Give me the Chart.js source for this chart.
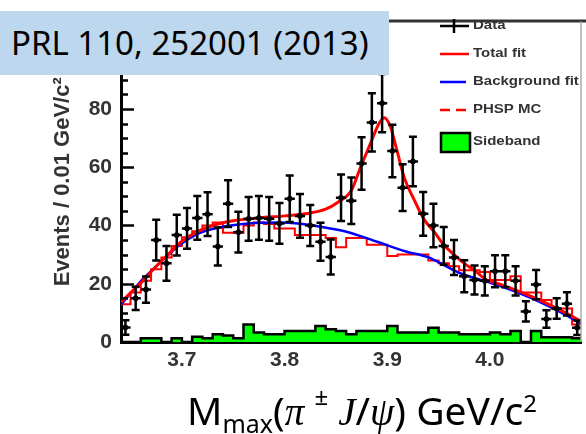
<!DOCTYPE html>
<html lang="en">
<head>
    <meta charset="UTF-8">
    <title>Mmax(pi J/psi)</title>
    <script src="https://cdn.jsdelivr.net/npm/chart.js"></script>
    <style>
        * {
            margin: 0;
            padding: 0;
            box-sizing: border-box;
        }
        body {
            width: 586px;
            height: 434px;
            background: #ffffff;
            position: relative;
            overflow: hidden;
        }
        #massChart {
            position: absolute;
            left: 0;
            top: 0;
        }
        .ref-box {
            position: absolute;
            left: 0;
            top: 11px;
            width: 389px;
            height: 64px;
            background: #bdd7ee;
            color: #000;
            font-family: "Noto Sans", sans-serif;
            font-size: 33px;
            line-height: 64px;
            padding-left: 11px;
            white-space: nowrap;
        }
        .x-title {
            position: absolute;
            left: 187px;
            top: 387px;
            color: #000;
            font-family: "Noto Sans", sans-serif;
            font-size: 39px;
            line-height: 46px;
            white-space: nowrap;
        }
        .x-title .sub {
            font-size: 25px;
            position: relative;
            top: 8px;
        }
        .x-title .pm {
            font-size: 24px;
            position: relative;
            top: -20px;
        }
        .x-title .sq {
            font-size: 24px;
            position: relative;
            top: -13px;
        }
        .x-title i {
            font-family: "Liberation Serif", serif;
        }
    </style>
</head>
<body>
    <canvas id="massChart" width="586" height="434"></canvas>
    <div class="ref-box">PRL 110, 252001 (2013)</div>
    <div class="x-title">M<span class="sub">max</span>(<i>π</i> <span class="pm">±</span> <i>J</i>/<i>ψ</i>) GeV/c<span class="sq">2</span></div>

    <script>
        // bins of 0.01 GeV/c^2
        const binWidth = 0.01;
        const binCenters = [3.645, 3.655, 3.665, 3.675, 3.685, 3.695, 3.705, 3.715, 3.725, 3.735,
                            3.745, 3.755, 3.765, 3.775, 3.785, 3.795, 3.805, 3.815, 3.825, 3.835,
                            3.845, 3.855, 3.865, 3.875, 3.885, 3.895, 3.905, 3.915, 3.925, 3.935,
                            3.945, 3.955, 3.965, 3.975, 3.985, 3.995, 4.005, 4.015, 4.025, 4.035,
                            4.045, 4.055, 4.065, 4.075, 4.085];
        const dataCounts = [5, 15, 18, 35, 27, 36.7, 39, 42.6, 43.9, 32.8,
                            47.5, 37.7, 42.3, 42.6, 42.3, 40.7, 49.2, 43.3, 40, 34.4,
                            29.2, 49.5, 48.5, 61.3, 75.4, 82, 65.6, 53, 62, 44,
                            40, 33, 29, 22.6, 21.3, 21, 24.3, 24.3, 21, 10.5,
                            19.7, 7.9, 11.5, 13.1, 4.9];
        const dataErrors = [2.5, 4, 4.5, 7, 6, 7, 7, 7.5, 7.5, 6.5,
                            8, 7, 7.5, 7.5, 7.5, 7, 8, 7.5, 7, 6.5,
                            6, 8, 8, 9, 10, 10, 9, 8, 8.5, 7.5,
                            7.5, 6.5, 6, 5.5, 5, 5, 5.5, 5.5, 5, 3.5,
                            5, 3, 3.5, 4, 2.5];
        const phspCounts = [13, 17, 21, 25, 29, 33, 36, 38, 40, 41,
                            37.5, 37.5, 40, 41, 40.5, 39, 39, 36.7, 36.7, 36.7,
                            35.7, 32.5, 35.7, 35.7, 33.4, 33.4, 29.5, 30, 30, 30,
                            28, 27, 26, 24.6, 24.6, 24, 21.3, 21.3, 22.6, 17,
                            17, 14.4, 11.5, 11.5, 6];
        const sidebandCounts = [0, 0, 1.3, 1.3, 0, 1.3, 0, 1.8, 1.3, 2.7,
                                2.2, 1.3, 6, 3.3, 2.7, 2.7, 3.8, 3.8, 3.8, 5.5,
                                4.4, 3.8, 2.7, 3.8, 3.8, 3.8, 5.5, 3.3, 3.3, 3.3,
                                4.9, 3.3, 3.3, 2.7, 2.7, 2.7, 3.3, 2.7, 3.8, 0,
                                3.8, 1.6, 1.6, 1.6, 1.3];
        const totalFitX = [3.641, 3.662, 3.675, 3.685, 3.698, 3.714, 3.730, 3.750, 3.775, 3.800,
                           3.820, 3.840, 3.852, 3.865, 3.874, 3.884, 3.892, 3.897, 3.903, 3.910,
                           3.917, 3.926, 3.936, 3.946, 3.955, 3.965, 3.975, 3.985, 3.997, 4.006,
                           4.038, 4.071, 4.089];
        const totalFitY = [13.8, 21, 26, 29.5, 34, 37.7, 40, 41.6, 42.6, 43.3,
                           44, 45.6, 48, 52, 60, 68.5, 75, 77, 74, 65,
                           56, 49, 42, 37.7, 33.4, 30, 27, 24.6, 21.3, 20.3,
                           16, 10.5, 7];
        const bkgFitX = [3.641, 3.662, 3.678, 3.698, 3.717, 3.736, 3.765, 3.794, 3.813, 3.839,
                         3.862, 3.890, 3.919, 3.939, 3.971, 4.006, 4.038, 4.071, 4.089];
        const bkgFitY = [13, 21.6, 27, 33.4, 37.4, 39.3, 40.7, 41, 40.7, 39.3,
                         37.7, 34.4, 31, 29.2, 23.6, 19.7, 15.4, 9.8, 6.2];
        const xTicks = [3.7, 3.8, 3.9, 4.0];
        const yTicks = [0, 20, 40, 60, 80, 100];
        const legendLabels = ['Data', 'Total fit', 'Background fit', 'PHSP MC', 'Sideband'];

        // step histogram: one point per left bin edge plus the last right edge
        function histPoints(counts) {
            const pts = counts.map((c, i) => ({ x: binCenters[i] - binWidth / 2, y: c }));
            pts.push({ x: binCenters[binCenters.length - 1] + binWidth / 2, y: counts[counts.length - 1] });
            return pts;
        }

        function curvePoints(xs, ys) {
            return xs.map((x, i) => ({ x: x, y: ys[i] }));
        }

        const errorBars = {
            id: 'errorBars',
            afterDatasetsDraw(chart) {
                const { ctx, chartArea, scales: { x, y } } = chart;
                ctx.save();
                ctx.beginPath();
                ctx.rect(chartArea.left, 0, chartArea.right - chartArea.left, chartArea.bottom);
                ctx.clip();
                ctx.strokeStyle = '#000';
                ctx.lineWidth = 2.5;
                ctx.beginPath();
                binCenters.forEach((c, i) => {
                    const px = x.getPixelForValue(c);
                    const py = y.getPixelForValue(dataCounts[i]);
                    const lo = y.getPixelForValue(dataCounts[i] - dataErrors[i]);
                    const hi = y.getPixelForValue(dataCounts[i] + dataErrors[i]);
                    const l = x.getPixelForValue(c - binWidth / 2);
                    const r = x.getPixelForValue(c + binWidth / 2);
                    ctx.moveTo(px, lo); ctx.lineTo(px, hi);
                    ctx.moveTo(l, py); ctx.lineTo(r, py);
                    ctx.moveTo(px - 4, lo); ctx.lineTo(px + 4, lo);
                    ctx.moveTo(px - 4, hi); ctx.lineTo(px + 4, hi);
                });
                ctx.stroke();
                ctx.restore();
            }
        };

        // inward ticks on the y axis, frame on top and right, legend box
        const frameAndLegend = {
            id: 'frameAndLegend',
            afterDraw(chart) {
                const { ctx, chartArea, scales: { y } } = chart;
                ctx.save();
                ctx.strokeStyle = '#000';
                ctx.lineWidth = 2.5;
                ctx.beginPath();
                for (let v = 0; v <= 110; v += 5) {
                    const py = Math.round(y.getPixelForValue(v)) + 0.5;
                    const len = v % 20 === 0 ? 13 : 7;
                    ctx.moveTo(chartArea.left, py);
                    ctx.lineTo(chartArea.left + len, py);
                }
                ctx.stroke();

                ctx.strokeStyle = '#333';
                ctx.lineWidth = 3;
                ctx.beginPath();
                ctx.moveTo(chartArea.left - 1, chartArea.top - 0.5);
                ctx.lineTo(586, chartArea.top - 0.5);
                ctx.stroke();
                ctx.strokeStyle = '#aaa';
                ctx.lineWidth = 1.5;
                ctx.beginPath();
                ctx.moveTo(chartArea.right, chartArea.top);
                ctx.lineTo(chartArea.right, chartArea.bottom);
                ctx.stroke();

                // legend
                const lx = 440;
                const rows = [26, 54, 82, 110, 142];
                ctx.lineWidth = 2.5;
                ctx.strokeStyle = '#000';
                ctx.beginPath();
                ctx.moveTo(lx, rows[0]); ctx.lineTo(lx + 29, rows[0]);
                ctx.moveTo(lx + 14, rows[0] - 7); ctx.lineTo(lx + 14, rows[0] + 7);
                ctx.stroke();
                ctx.strokeStyle = '#ff0000';
                ctx.beginPath();
                ctx.moveTo(lx, rows[1]); ctx.lineTo(lx + 29, rows[1]);
                ctx.stroke();
                ctx.strokeStyle = '#0000ff';
                ctx.beginPath();
                ctx.moveTo(lx, rows[2]); ctx.lineTo(lx + 26, rows[2]);
                ctx.stroke();
                ctx.strokeStyle = '#ff0000';
                ctx.setLineDash([10, 6]);
                ctx.beginPath();
                ctx.moveTo(lx, rows[3]); ctx.lineTo(lx + 27, rows[3]);
                ctx.stroke();
                ctx.setLineDash([]);
                ctx.fillStyle = '#00ff00';
                ctx.fillRect(lx + 1, rows[4] - 9, 29, 19);
                ctx.strokeStyle = '#000';
                ctx.strokeRect(lx + 1, rows[4] - 9, 29, 19);

                ctx.fillStyle = '#333';
                ctx.font = 'bold 12px "Liberation Sans", Arial, sans-serif';
                ctx.textBaseline = 'middle';
                legendLabels.forEach((t, i) => {
                    ctx.save();
                    ctx.translate(lx + 33, rows[i]);
                    ctx.scale(1.25, 1);
                    ctx.fillText(t, 0, 0);
                    ctx.restore();
                });
                ctx.restore();
            }
        };

        new Chart(document.getElementById('massChart').getContext('2d'), {
            type: 'line',
            data: {
                datasets: [
                    {
                        label: 'Data',
                        data: curvePoints(binCenters, dataCounts),
                        showLine: false,
                        pointRadius: 2.5,
                        pointBackgroundColor: '#000',
                        pointBorderColor: '#000',
                        order: 0
                    },
                    {
                        label: 'Total fit',
                        data: curvePoints(totalFitX, totalFitY),
                        borderColor: '#ff0000',
                        borderWidth: 3,
                        pointRadius: 0,
                        cubicInterpolationMode: 'monotone',
                        order: 1
                    },
                    {
                        label: 'Background fit',
                        data: curvePoints(bkgFitX, bkgFitY),
                        borderColor: '#0000ff',
                        borderWidth: 2.5,
                        pointRadius: 0,
                        cubicInterpolationMode: 'monotone',
                        order: 2
                    },
                    {
                        label: 'PHSP MC',
                        data: histPoints(phspCounts),
                        borderColor: '#ff0000',
                        borderWidth: 2,
                        pointRadius: 0,
                        stepped: true,
                        order: 3
                    },
                    {
                        label: 'Sideband',
                        data: histPoints(sidebandCounts),
                        borderColor: '#000',
                        borderWidth: 2.5,
                        backgroundColor: '#00ff00',
                        fill: 'origin',
                        pointRadius: 0,
                        stepped: true,
                        order: 4
                    }
                ]
            },
            options: {
                responsive: false,
                animation: false,
                layout: { padding: { left: 0, top: 8, right: 1, bottom: 0 } },
                plugins: {
                    legend: { display: false },
                    tooltip: { enabled: false }
                },
                scales: {
                    x: {
                        type: 'linear',
                        min: 3.6407,
                        max: 4.0887,
                        z: 1,
                        afterFit(scale) { scale.height = 92; },
                        afterBuildTicks(scale) { scale.ticks = xTicks.map(v => ({ value: v })); },
                        grid: { display: false, drawTicks: false },
                        border: { display: true, color: '#000', width: 3 },
                        ticks: {
                            padding: 6,
                            maxRotation: 0,
                            autoSkip: false,
                            color: '#333',
                            font: { family: '"Liberation Sans", Arial, sans-serif', size: 21, weight: 'bold' },
                            callback: v => v.toFixed(1)
                        }
                    },
                    y: {
                        min: 0,
                        max: 110,
                        z: 1,
                        afterFit(scale) { scale.width = 121; },
                        afterBuildTicks(scale) { scale.ticks = yTicks.map(v => ({ value: v })); },
                        grid: { display: false, drawTicks: false },
                        border: { display: true, color: '#000', width: 3 },
                        ticks: {
                            padding: 9,
                            color: '#333',
                            font: { family: '"Liberation Sans", Arial, sans-serif', size: 21, weight: 'bold' }
                        },
                        title: {
                            display: true,
                            text: 'Events / 0.01 GeV/c²',
                            color: '#333',
                            padding: { top: 50, bottom: 0 },
                            font: { family: '"Liberation Sans", Arial, sans-serif', size: 22, weight: 'bold' }
                        }
                    }
                }
            },
            plugins: [errorBars, frameAndLegend]
        });
    </script>
</body>
</html>
